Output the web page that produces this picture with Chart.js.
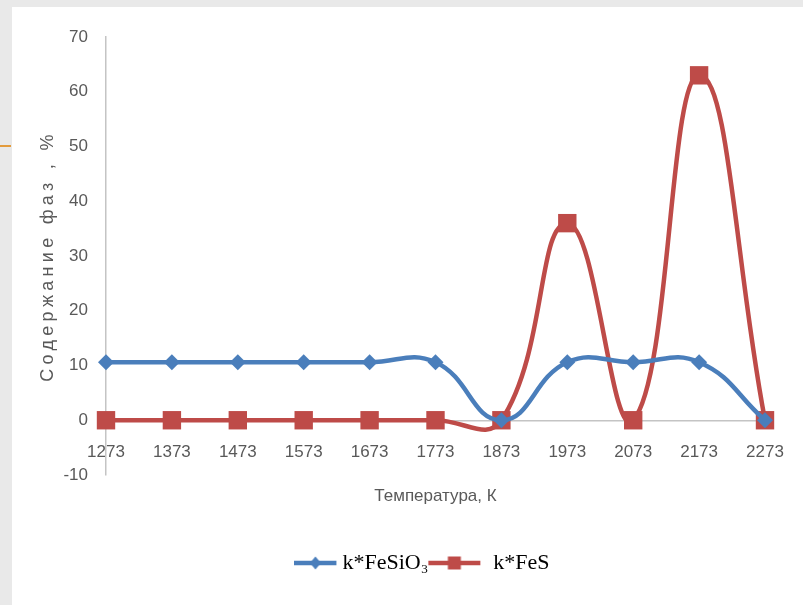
<!DOCTYPE html>
<html>
<head>
<meta charset="utf-8">
<script src="https://cdn.jsdelivr.net/npm/chart.js@4.4.1/dist/chart.umd.min.js"></script>
<style>
  html, body { margin: 0; padding: 0; }
  body { width: 803px; height: 605px; background: #e9e9e9; position: relative; overflow: hidden; }
  #panel { position: absolute; left: 12px; top: 7px; right: 0; bottom: 0; background: #ffffff; }
  #accent { position: absolute; left: 0; top: 145px; width: 11px; height: 2px; background: #e39b3c; }
  #wrap { position: absolute; left: 0; top: 0; width: 803px; height: 605px; }
</style>
</head>
<body>
<div id="panel"></div>
<div id="accent"></div>
<div id="wrap"><canvas id="c" width="803" height="605"></canvas></div>
<script>
// ---- data ----
const temperatures = ['1273', '1373', '1473', '1573', '1673', '1773', '1873', '1973', '2073', '2173', '2273'];
const feSiO3 = [10.6, 10.6, 10.6, 10.6, 10.6, 10.6, 0, 10.6, 10.6, 10.6, 0];
const feS = [0, 0, 0, 0, 0, 0, 0, 36, 0, 63, 0];
const seriesNames = ['k*FeSiO\u2083', 'k*FeS'];
const yTicks = [-10, 0, 10, 20, 30, 40, 50, 60, 70];
const xTitle = 'Температура, К';
const yTitle = 'Содержание фаз , %';

const BLUE = '#4a7ebb';
const RED = '#be4b48';
const TICK = '#595959';
const SANS = "'Liberation Sans Narrow', 'Liberation Sans', Arial, sans-serif";

// legend symbol: a short line with the marker; drawn off-centre so the
// legend keeps the reference spacing between symbol and text
function legendSymbol(color, style, canvasW, lineFrom, lineTo, markX) {
  const cv = document.createElement('canvas');
  cv.width = canvasW; cv.height = 22;
  const g = cv.getContext('2d');
  g.strokeStyle = color; g.lineWidth = 4.5;
  g.beginPath(); g.moveTo(lineFrom, 11); g.lineTo(lineTo, 11); g.stroke();
  g.fillStyle = color;
  g.beginPath();
  if (style === 'diamond') {
    g.moveTo(markX, 4.5); g.lineTo(markX + 5.5, 11); g.lineTo(markX, 17.5); g.lineTo(markX - 5.5, 11); g.closePath();
  } else {
    g.rect(markX - 6.5, 4.5, 13, 13);
  }
  g.fill();
  return cv;
}
const symbols = [
  legendSymbol(BLUE, 'diamond', 64, 0, 42, 21),
  legendSymbol(RED, 'square', 100, 1, 53, 27)
];

const yTitleSpacing = {
  id: 'yTitleSpacing',
  afterUpdate(chart) {
    const s = chart.scales.y;
    if (!s || s._wrapped) return;
    const orig = s.drawTitle;
    s.drawTitle = function () {
      const ctx = this.ctx;
      const prev = ctx.letterSpacing;
      ctx.letterSpacing = '4.3px';
      orig.apply(this, arguments);
      ctx.letterSpacing = prev || '0px';
    };
    s._wrapped = true;
  }
};

new Chart(document.getElementById('c'), {
  type: 'line',
  data: {
    labels: temperatures,
    datasets: [
      {
        label: seriesNames[0], data: feSiO3,
        borderColor: BLUE, backgroundColor: BLUE, borderWidth: 4.5,
        pointStyle: 'rectRot', pointRadius: 8, pointBorderWidth: 0,
        pointBackgroundColor: BLUE, tension: 0.45, fill: false
      },
      {
        label: seriesNames[1], data: feS,
        borderColor: RED, backgroundColor: RED, borderWidth: 4.5,
        pointStyle: 'rect', pointRadius: 13, pointBorderWidth: 0,
        pointBackgroundColor: RED, tension: 0.45, fill: false
      }
    ]
  },
  options: {
    responsive: false,
    animation: false,
    events: [],
    layout: { padding: { left: 28, right: 38, top: 37, bottom: 21 } },
    plugins: {
      tooltip: { enabled: false },
      legend: {
        position: 'bottom',
        fullSize: false,
        labels: {
          usePointStyle: true,
          pointStyleWidth: 10,
          padding: 44,
          color: '#000000',
          font: { family: "'Liberation Serif', 'Times New Roman', serif", size: 22 },
          generateLabels(chart) {
            return chart.data.datasets.map((ds, i) => ({
              text: ds.label, pointStyle: symbols[i], fillStyle: ds.borderColor,
              strokeStyle: ds.borderColor, lineWidth: 0, hidden: false, datasetIndex: i, fontColor: '#000000'
            }));
          }
        }
      }
    },
    scales: {
      x: {
        position: { y: 0 },
        offset: false,
        grid: { display: false, drawTicks: false },
        border: { display: false },
        ticks: { color: TICK, font: { family: SANS, size: 17 }, padding: 22, maxRotation: 0, autoSkip: false },
        afterFit(scale) { scale.paddingLeft = 0; scale.paddingRight = 0; }
      },
      x2: {
        type: 'category',
        position: 'bottom',
        labels: temperatures,
        grid: { display: false, drawTicks: false },
        border: { display: false },
        ticks: { display: false },
        title: { display: true, text: xTitle, color: TICK, font: { family: SANS, size: 17 }, padding: { top: 0, bottom: 1 } },
        afterFit(scale) { scale.height = 33; scale.paddingLeft = 0; scale.paddingRight = 0; }
      },
      y: {
        min: -10, max: 70,
        afterBuildTicks(scale) { scale.ticks = yTicks.map(v => ({ value: v })); },
        grid: {
          drawTicks: false,
          color: (ctx) => (ctx.tick && ctx.tick.value === 0 ? '#c4c4c4' : 'rgba(0,0,0,0)'),
          lineWidth: 1.5
        },
        border: { display: true, color: '#c4c4c4', width: 1.5 },
        ticks: { color: TICK, font: { family: SANS, size: 17 }, padding: 18 },
        title: { display: true, text: yTitle, color: TICK, font: { family: SANS, size: 18 }, padding: { top: 9, bottom: 0 } },
        afterFit(scale) { scale.width = 78; }
      }
    }
  },
  plugins: [yTitleSpacing]
});
</script>
</body>
</html>
